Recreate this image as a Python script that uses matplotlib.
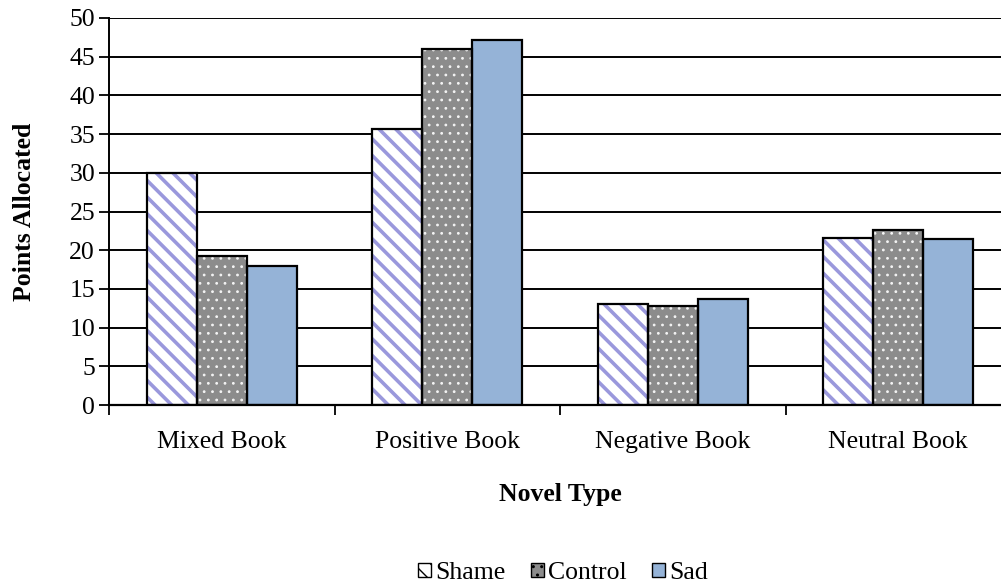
import matplotlib
matplotlib.use("Agg")
import matplotlib.pyplot as plt
import numpy as np
from matplotlib.patches import Patch

categories = ["Mixed Book", "Positive Book", "Negative Book", "Neutral Book"]
series_names = ["Shame", "Control", "Sad"]
shame = [30.0, 35.7, 13.0, 21.6]
control = [19.2, 46.0, 12.8, 22.6]
sad = [18.0, 47.2, 13.7, 21.4]
yticks = list(range(0, 51, 5))

plt.rcParams["font.family"] = ["Liberation Serif", "DejaVu Serif"]
FS = 18.5

fig = plt.figure(figsize=(10.01, 5.85), dpi=100)
ax = fig.add_axes([109 / 1001, 1 - 405 / 585, (1011 - 109) / 1001, (405 - 18) / 585])

x = np.arange(len(categories))
w = 0.222
offsets = [-w, 0, w]

styles = [
    dict(face="white", hatch="\\\\", hcolor="#9a98dc", hlw=2.6),
    dict(face="#8c8c8c", hatch="..", hcolor="#f4f4f4", hlw=0.8),
    dict(face="#95b3d7", hatch=None, hcolor="#95b3d7", hlw=1.0),
]

ax.set_axisbelow(True)
ax.yaxis.grid(True, color="black", linewidth=1.4)

for vals, off, st in zip([shame, control, sad], offsets, styles):
    with plt.rc_context({"hatch.linewidth": st["hlw"]}):
        ax.bar(x + off, vals, width=w, color=st["face"], hatch=st["hatch"],
               edgecolor=st["hcolor"], linewidth=0, zorder=2)
    ax.bar(x + off, vals, width=w, facecolor="none", edgecolor="black",
           linewidth=1.6, zorder=3)

ax.set_xlim(-0.5, len(categories) - 0.5)
ax.set_ylim(0, 50)
ax.set_yticks(yticks)
ax.set_xticks(x)
ax.set_xticklabels(categories, fontsize=FS)
ax.set_xticks(np.arange(len(categories) + 1) - 0.5, minor=True)
ax.tick_params(axis="x", which="major", length=0, pad=19)
ax.tick_params(axis="x", which="minor", length=7, width=1.3, direction="out")
ax.tick_params(axis="y", labelsize=FS, length=7, width=1.3, direction="out", pad=3)

for s in ["top", "right"]:
    ax.spines[s].set_visible(False)
ax.spines["left"].set_linewidth(1.4)
ax.spines["bottom"].set_linewidth(1.6)

ax.set_ylabel("Points Allocated", fontsize=FS, fontweight="bold", labelpad=24)
ax.set_xlabel("Novel Type", fontsize=FS, fontweight="bold", labelpad=21)

handles = []
for name, st in zip(series_names, styles):
    handles.append(Patch(facecolor=st["face"], edgecolor="black", linewidth=1.0,
                         hatch=st["hatch"], label=name))
with plt.rc_context({"hatch.linewidth": 1.0}):
    leg = fig.legend(handles=handles, loc="center", bbox_to_anchor=(563 / 1001, 1 - 573 / 585),
                     ncol=3, frameon=False, fontsize=FS, handlelength=0.5, handleheight=0.5,
                     handletextpad=0.15, columnspacing=1.0)

fig.savefig("out.png", dpi=100)
